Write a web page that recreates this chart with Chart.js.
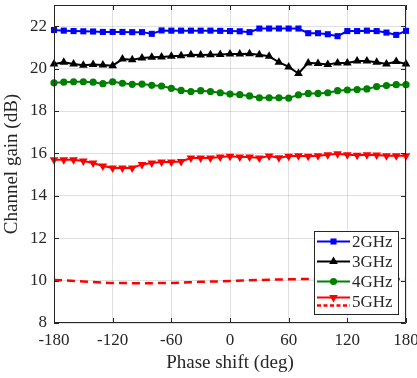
<!DOCTYPE html>
<html>
<head>
<meta charset="utf-8">
<script src="https://cdn.jsdelivr.net/npm/chart.js@4/dist/chart.umd.min.js"></script>
<style>
html,body{margin:0;padding:0;background:#fff;}
#wrap{width:417px;height:378px;}
</style>
</head>
<body>
<div id="wrap"><canvas id="c" width="417" height="378"></canvas></div>
<script>
// ---- data ----
const phaseDeg = [-180,-170,-160,-150,-140,-130,-120,-110,-100,-90,-80,-70,-60,-50,-40,-30,-20,-10,0,10,20,30,40,50,60,70,80,90,100,110,120,130,140,150,160,170,180];
const gain2GHz = [21.82,21.79,21.77,21.76,21.75,21.73,21.73,21.73,21.72,21.72,21.64,21.80,21.79,21.79,21.79,21.79,21.79,21.78,21.77,21.76,21.72,21.89,21.89,21.89,21.89,21.89,21.67,21.67,21.62,21.53,21.77,21.77,21.79,21.77,21.70,21.59,21.78];
const gain3GHz = [20.22,20.30,20.22,20.16,20.19,20.17,20.14,20.45,20.42,20.50,20.53,20.55,20.58,20.61,20.65,20.64,20.65,20.67,20.69,20.69,20.70,20.65,20.58,20.30,20.08,19.77,20.27,20.24,20.19,20.27,20.27,20.36,20.36,20.30,20.22,20.33,20.22];
const gain4GHz = [19.33,19.36,19.38,19.38,19.36,19.29,19.38,19.31,19.26,19.27,19.21,19.18,19.07,18.97,18.92,18.96,18.92,18.86,18.80,18.77,18.71,18.62,18.62,18.62,18.61,18.76,18.83,18.83,18.86,18.96,18.99,19.01,19.04,19.15,19.20,19.24,19.24];
const gain5GHz = [15.70,15.70,15.70,15.64,15.55,15.41,15.31,15.31,15.31,15.48,15.55,15.59,15.59,15.62,15.78,15.78,15.78,15.83,15.86,15.83,15.83,15.78,15.88,15.80,15.86,15.89,15.86,15.89,15.94,15.98,15.94,15.91,15.94,15.92,15.89,15.89,15.89];
const phaseDegDashed = [-180,-150,-120,-90,-60,-30,0,30,60,90,120,150,180];
const gain5GHzDashed = [10.03,9.96,9.89,9.88,9.89,9.94,9.98,10.03,10.06,10.08,10.08,10.08,10.08];
const xTicks = [-180,-120,-60,0,60,120,180];
const yTicks = [8,10,12,14,16,18,20,22];
const seriesNames = ['2GHz','3GHz','4GHz','5GHz'];

const FONT = 'Liberation Serif';
const AX = '#262626';

function pts(xs, ys){ return xs.map((x,i)=>({x:x, y:ys[i]})); }

const colors = ['#0000ff','#000000','#008000','#ff0000'];

const datasets = [
  {label:seriesNames[0], data:pts(phaseDeg,gain2GHz), borderColor:colors[0], backgroundColor:colors[0], borderWidth:2, pointStyle:'rect', pointRadius:4.3, pointBorderWidth:0, tension:0, clip:false},
  {label:seriesNames[1], data:pts(phaseDeg,gain3GHz), borderColor:colors[1], backgroundColor:colors[1], borderWidth:2, pointStyle:'triangle', pointRadius:5, pointBorderWidth:0, tension:0, clip:false},
  {label:seriesNames[2], data:pts(phaseDeg,gain4GHz), borderColor:colors[2], backgroundColor:colors[2], borderWidth:2, pointStyle:'circle', pointRadius:3.6, pointBorderWidth:0, tension:0, clip:false},
  {label:seriesNames[3], data:pts(phaseDeg,gain5GHz), borderColor:colors[3], backgroundColor:colors[3], borderWidth:2, pointStyle:'triangle', pointRotation:180, pointRadius:5, pointBorderWidth:0, tension:0, clip:false},
  {label:seriesNames[3]+' dashed', data:pts(phaseDegDashed,gain5GHzDashed), borderColor:colors[3], backgroundColor:colors[3], borderWidth:2.5, borderDash:[8,5], pointRadius:0, tension:0.4, cubicInterpolationMode:'monotone'}
];

function drawMarker(ctx, style, x, y, r, color, rot){
  ctx.save();
  ctx.fillStyle = color;
  ctx.beginPath();
  if(style==='rect'){
    const s = r*Math.SQRT1_2;
    ctx.rect(x-s,y-s,2*s,2*s);
  } else if(style==='circle'){
    ctx.arc(x,y,r,0,Math.PI*2);
  } else if(style==='triangle'){
    const a = rot ? Math.PI : 0;
    for(let k=0;k<3;k++){
      const ang = a + k*2*Math.PI/3 - Math.PI/2;
      const px = x + Math.cos(ang)*r, py = y + Math.sin(ang)*r;
      if(k===0) ctx.moveTo(px,py); else ctx.lineTo(px,py);
    }
    ctx.closePath();
  }
  ctx.fill();
  ctx.restore();
}

const boxPlugin = {
  id:'boxPlugin',
  afterDatasetsDraw(chart){
    const ctx = chart.ctx, a = chart.chartArea;
    const xs = chart.scales.x, ys = chart.scales.y;
    ctx.save();
    ctx.strokeStyle = AX;
    ctx.lineWidth = 1;
    ctx.beginPath();
    ctx.rect(a.left+0.5, a.top+0.5, a.right-a.left-1, a.bottom-a.top-1);
    ctx.stroke();
    const tl = 5;
    ctx.beginPath();
    xTicks.forEach(v=>{
      const px = Math.round(xs.getPixelForValue(v))+0.5;
      ctx.moveTo(px,a.bottom); ctx.lineTo(px,a.bottom-tl);
      ctx.moveTo(px,a.top); ctx.lineTo(px,a.top+tl);
    });
    yTicks.forEach(v=>{
      const py = Math.round(ys.getPixelForValue(v))+0.5;
      ctx.moveTo(a.left,py); ctx.lineTo(a.left+tl,py);
      ctx.moveTo(a.right,py); ctx.lineTo(a.right-tl,py);
    });
    ctx.stroke();

    // legend
    const bw = 84, bh = 83;
    const bx = a.right - 8 - bw, by = a.bottom - 9.5 - bh;
    ctx.fillStyle = '#fff';
    ctx.fillRect(bx,by,bw,bh);
    ctx.strokeStyle = AX;
    ctx.strokeRect(Math.round(bx)+0.5, Math.round(by)+0.5, bw, bh);
    const styles = [['rect',4.3,0],['triangle',5,0],['circle',3.6,0],['triangle',5,1]];
    const lx0 = bx + 3, lx1 = bx + 36, tx = bx + 38;
    ctx.font = '17px "' + FONT + '"';
    ctx.textBaseline = 'middle';
    ctx.textAlign = 'left';
    for(let i=0;i<4;i++){
      const cy = by + 11 + i*20;
      const ly = i===3 ? cy - 4 : cy;
      ctx.strokeStyle = colors[i];
      ctx.lineWidth = 2;
      ctx.setLineDash([]);
      ctx.beginPath(); ctx.moveTo(lx0,ly); ctx.lineTo(lx1,ly); ctx.stroke();
      drawMarker(ctx, styles[i][0], (lx0+lx1)/2, ly, styles[i][1], colors[i], styles[i][2]);
      if(i===3){
        ctx.lineWidth = 2.5;
        ctx.setLineDash([4,2.5]);
        ctx.beginPath(); ctx.moveTo(lx0,cy+4); ctx.lineTo(lx1,cy+4); ctx.stroke();
        ctx.setLineDash([]);
      }
      ctx.fillStyle = AX;
      ctx.fillText(seriesNames[i], tx, cy+1);
    }
    ctx.restore();
  }
};

new Chart(document.getElementById('c'), {
  type:'line',
  data:{datasets:datasets},
  plugins:[boxPlugin],
  options:{
    responsive:false,
    animation:false,
    events:[],
    layout:{padding:{top:3,right:11,left:0,bottom:0}},
    plugins:{legend:{display:false}, tooltip:{enabled:false}},
    scales:{
      x:{
        type:'linear', min:-180, max:180,
        afterBuildTicks:s=>{ s.ticks = xTicks.map(v=>({value:v})); },
        afterFit:s=>{ s.height = 55; s.paddingLeft = 0; s.paddingRight = 0; },
        grid:{color:'rgba(0,0,0,0.12)', drawTicks:false},
        border:{display:false},
        ticks:{font:{family:FONT,size:17}, color:AX, padding:7, maxRotation:0, callback:v=>String(v)},
        title:{display:true, text:'Phase shift (deg)', font:{family:FONT,size:19}, color:AX, padding:{top:0,bottom:4}}
      },
      y:{
        type:'linear', min:8, max:23,
        afterBuildTicks:s=>{ s.ticks = yTicks.map(v=>({value:v})); },
        afterFit:s=>{ s.width = 54; s.paddingTop = 0; s.paddingBottom = 0; },
        grid:{color:'rgba(0,0,0,0.12)', drawTicks:false},
        border:{display:false},
        ticks:{font:{family:FONT,size:17}, color:AX, padding:7, callback:v=>String(v)},
        title:{display:true, text:'Channel gain (dB)', font:{family:FONT,size:19}, color:AX, padding:{top:1,bottom:0}}
      }
    }
  }
});
</script>
</body>
</html>
